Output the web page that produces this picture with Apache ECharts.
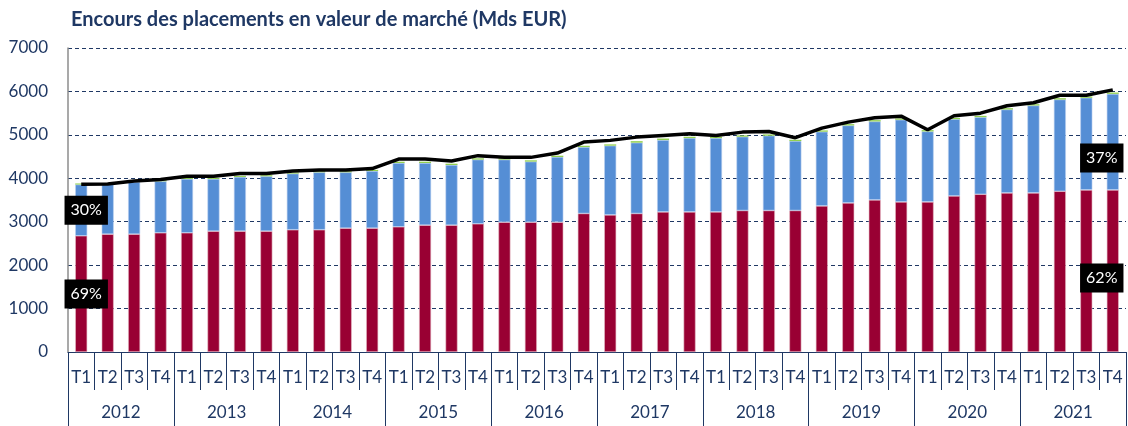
<!DOCTYPE html>
<html>
<head>
<meta charset="utf-8">
<script src="https://cdn.jsdelivr.net/npm/echarts@6/dist/echarts.min.js"></script>
<style>
  html, body { margin: 0; padding: 0; background: #fff; }
  #chart { width: 1128px; height: 426px; }
</style>
</head>
<body>
<div id="chart"></div>
<script>
// Données (Mds EUR)
const years = ['2012', '2013', '2014', '2015', '2016', '2017', '2018', '2019', '2020', '2021'];
const quarters = ['T1', 'T2', 'T3', 'T4'];

// Partie rouge (bas des barres)
const redValues = [
    2676, 2715, 2715, 2745, 2745, 2784, 2784, 2784, 2815, 2815,
    2853, 2853, 2883, 2922, 2922, 2952, 2990, 2990, 2990, 3190,
    3158, 3190, 3227, 3227, 3227, 3259, 3259, 3259, 3365, 3434,
    3503, 3457, 3457, 3594, 3633, 3664, 3664, 3702, 3732, 3732
];
// Partie bleue (milieu)
const blueValues = [
    1180, 1145, 1201, 1186, 1240, 1201, 1247, 1262, 1293, 1323,
    1285, 1315, 1469, 1430, 1384, 1478, 1440, 1394, 1500, 1529,
    1593, 1630, 1653, 1699, 1699, 1698, 1721, 1598, 1707, 1783,
    1806, 1891, 1622, 1768, 1775, 1920, 2012, 2112, 2121, 2212
];
// Partie verte (fine bande en haut)
const greenValues = [
    25, 25, 25, 25, 25, 25, 25, 25, 25, 25,
    25, 25, 30, 30, 30, 30, 30, 30, 30, 30,
    30, 35, 35, 30, 30, 30, 30, 30, 30, 30,
    30, 30, 30, 30, 30, 30, 30, 30, 30, 30
];
// Courbe noire : encours total
const totalLine = [
    3863, 3870, 3940, 3970, 4046, 4046, 4108, 4108, 4168, 4191,
    4191, 4223, 4443, 4443, 4398, 4521, 4482, 4482, 4581, 4834,
    4873, 4948, 4987, 5026, 4987, 5063, 5079, 4934, 5155, 5293,
    5393, 5431, 5118, 5439, 5500, 5669, 5738, 5912, 5912, 6036
];
// Étiquettes de part
const shareFirst = { red: '69%', blue: '30%' };
const shareLast = { red: '62%', blue: '37%' };

const navy = '#1F3864';
const categories = [];
years.forEach(y => quarters.forEach(q => categories.push(q)));

function boxLabel(text, offset) {
    return {
        show: true,
        position: 'inside',
        formatter: text,
        offset: offset,
        color: '#fff',
        backgroundColor: '#000',
        fontFamily: 'Lato',
        fontSize: 16,
        padding: [7, 6, 6, 6]
    };
}

const last = redValues.length - 1;
const redData = redValues.map((v, i) => {
    if (i === 0) return { value: v, label: boxLabel(shareFirst.red, [5, 0]) };
    if (i === last) return { value: v, label: boxLabel(shareLast.red, [-11, 7]) };
    return v;
});
const blueData = blueValues.map((v, i) => {
    if (i === 0) return { value: v, label: boxLabel(shareFirst.blue, [5, 0]) };
    if (i === last) return { value: v, label: boxLabel(shareLast.blue, [-11, 16]) };
    return v;
});

const chart = echarts.init(document.getElementById('chart'));
chart.setOption({
    animation: false,
    title: {
        text: 'Encours des placements en valeur de marché (Mds EUR)',
        left: 66,
        top: 5,
        textStyle: { fontFamily: 'Lato', fontWeight: 'bold', fontSize: 20, color: navy }
    },
    grid: { left: 68, right: 2, top: 48, bottom: 74 },
    xAxis: [
        {
            type: 'category',
            data: categories,
            axisLine: { show: true, lineStyle: { color: navy, width: 1 } },
            axisTick: { show: true, length: 38, interval: 0, lineStyle: { color: navy } },
            axisLabel: { interval: 0, margin: 17, color: navy, fontFamily: 'Lato', fontSize: 17 }
        },
        {
            type: 'category',
            data: years,
            position: 'bottom',
            axisLine: { show: false },
            axisTick: { show: true, length: 74, interval: 0, lineStyle: { color: navy } },
            axisLabel: { interval: 0, margin: 52, color: navy, fontFamily: 'Lato', fontSize: 17 }
        }
    ],
    yAxis: {
        type: 'value',
        min: 0,
        max: 7000,
        interval: 1000,
        axisLine: { show: true, lineStyle: { color: '#8c8c8c', width: 1.5 } },
        axisTick: { show: false },
        axisLabel: {
            margin: 20, color: navy, fontFamily: 'Lato', fontSize: 17,
            formatter: v => String(v)
        },
        splitLine: { lineStyle: { color: navy, type: [4, 3], width: 1 } }
    },
    series: [
        {
            type: 'bar', stack: 'total', data: redData, barWidth: 12,
            itemStyle: { color: '#990033', borderColor: '#e6b8c4', borderWidth: 0.6 }
        },
        {
            type: 'bar', stack: 'total', data: blueData, barWidth: 12,
            itemStyle: { color: '#558ED5', borderColor: '#b9cff0', borderWidth: 0.6 }
        },
        {
            type: 'bar', stack: 'total', data: greenValues, barWidth: 12,
            itemStyle: { color: '#92D050' }
        },
        {
            type: 'line', data: totalLine, symbol: 'none', z: 5,
            lineStyle: { color: '#000', width: 3.5 }
        }
    ]
});
</script>
</body>
</html>
